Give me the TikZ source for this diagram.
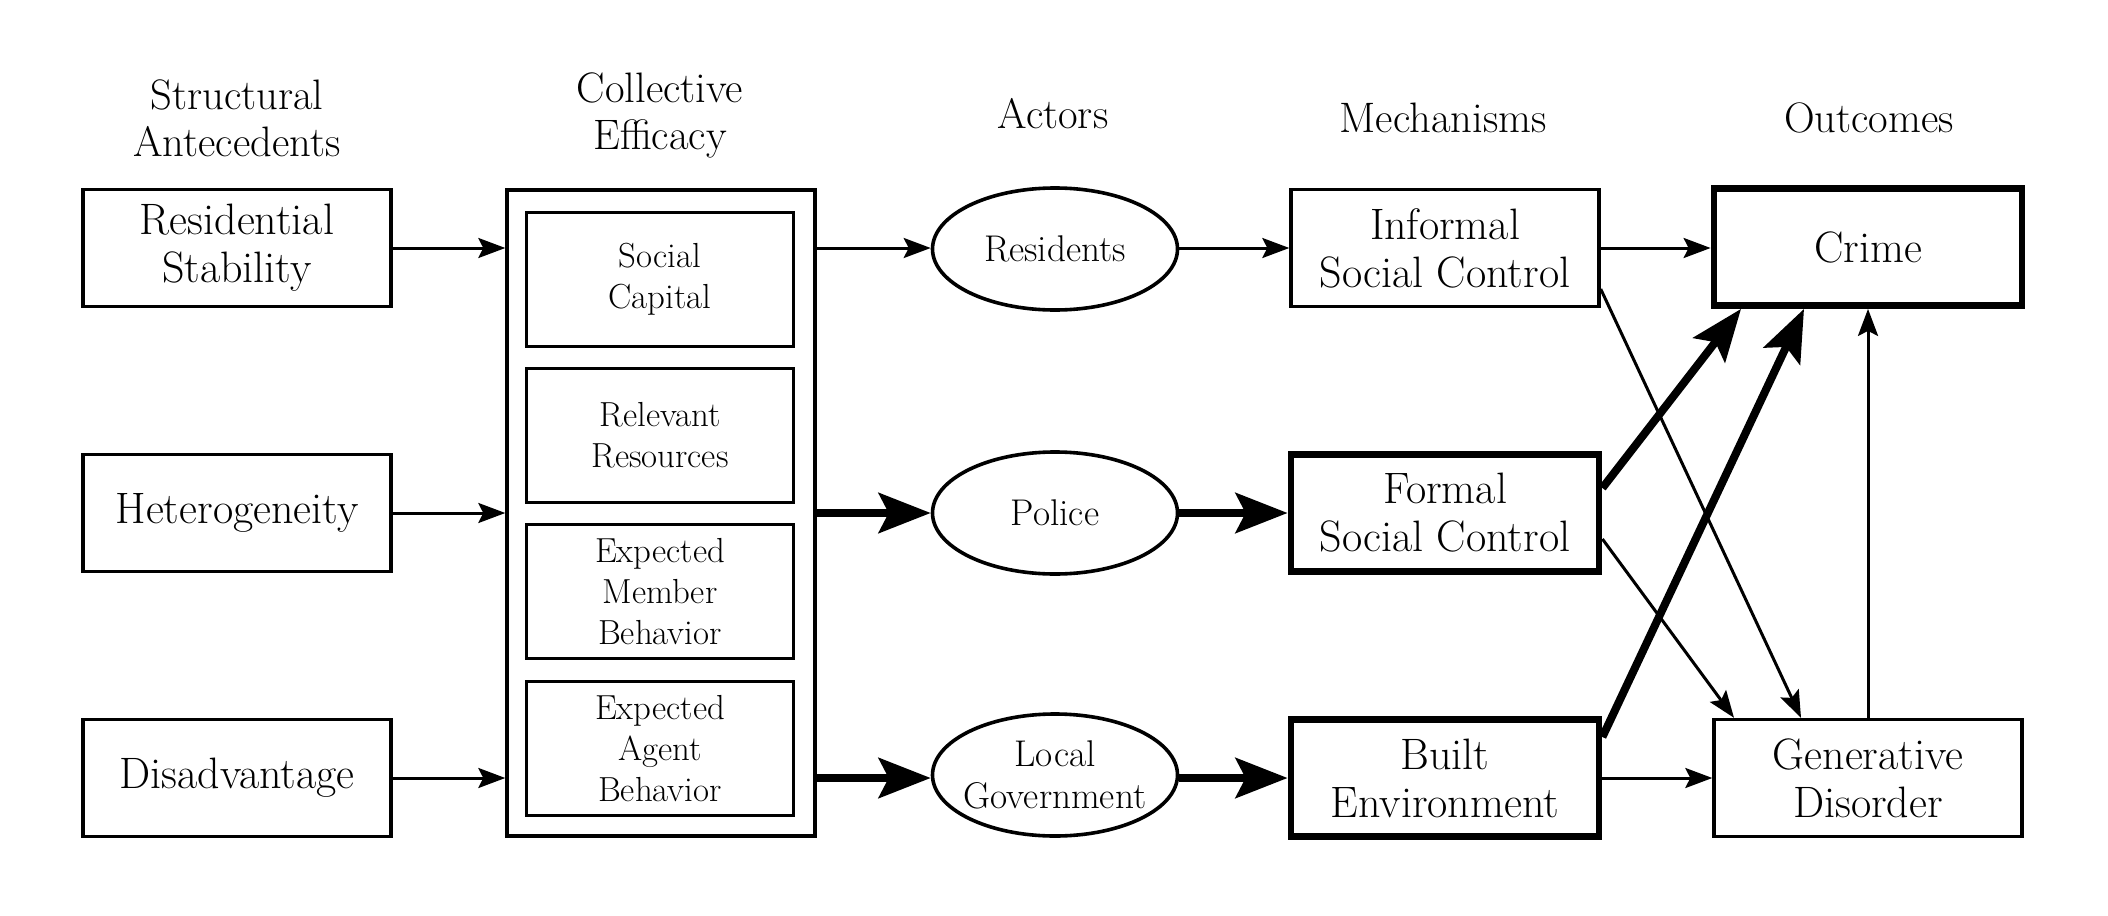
\documentclass[tikz,border=0pt]{standalone}
\usetikzlibrary{arrows.meta,calc,shapes.geometric}
\begin{document}
\begin{tikzpicture}[x=0.5pt,y=-0.5pt,
  box/.style={draw, line width=1.7pt, minimum width=154pt, minimum height=58.5pt, align=center, inner sep=0pt, font=\fontsize{22}{24}\selectfont},
  boldbox/.style={box, line width=3.4pt},
  inbox/.style={draw, line width=1.7pt, minimum width=133.5pt, minimum height=67pt, align=center, inner sep=0pt, font=\fontsize{17.4}{20.5}\selectfont},
  outerbox/.style={draw, line width=1.7pt, minimum width=154pt, minimum height=323pt, inner sep=0pt},
  actor/.style={ellipse, draw, line width=1.8pt, minimum width=122.5pt, minimum height=61pt, inner sep=0pt, align=center, font=\fontsize{18.6}{21}\selectfont},
  head/.style={align=center, inner sep=0pt, font=\fontsize{21.3}{23.5}\selectfont},
  thinarrow/.style={line width=1.5pt, -{Stealth[length=13.5pt,width=10pt,inset=2.5pt]}},
  boldarrow/.style={line width=4pt, -{Stealth[length=26pt,width=20pt,inset=5pt]}}
]
\useasboundingbox (0,0) rectangle (2108,915);
% headers
\node[head] (h1) at (237,118) {Structural\\Antecedents};
\node[head] (h2) at (660,115) {Collective\\Efficacy};
\node[head] (h3) at (1053,114) {Actors};
\node[head] (h4) at (1443,118) {Mechanisms};
\node[head] (h5) at (1869,118) {Outcomes};
% column 1
\node[box] (rs) at (237,248) {Residential\\Stability};
\node[box] (het) at (237,513) {Heterogeneity};
\node[box] (dis) at (237,778) {Disadvantage};
% collective efficacy
\node[outerbox] (ce) at (661,513) {};
\node[inbox] (sc) at (660,279.5) {Social\\Capital};
\node[inbox] (rr) at (660,435.5) {Relevant\\Resources};
\node[inbox] (emb) at (660,591.5) {Expected\\Member\\Behavior};
\node[inbox] (eab) at (660,748.5) {Expected\\Agent\\Behavior};
% actors
\node[actor] (res) at (1055,249) {Residents};
\node[actor] (pol) at (1055,513) {Police};
\node[actor, inner xsep=-12pt] (lg) at (1055,775) {Local\\Government};
% mechanisms
\node[box] (isc) at (1445,248) {Informal\\Social Control};
\node[boldbox] (fsc) at (1445,513) {Formal\\Social Control};
\node[boldbox] (be) at (1445,778) {Built\\Environment};
% outcomes
\node[boldbox] (cr) at (1868,247) {Crime};
\node[box] (gd) at (1868,778) {Generative\\Disorder};
% arrows col1 -> CE
\draw[thinarrow] (rs.east) -- (rs.east -| ce.west);
\draw[thinarrow] (het.east) -- (het.east -| ce.west);
\draw[thinarrow] (dis.east) -- (dis.east -| ce.west);
% CE -> actors
\draw[thinarrow] (ce.east |- rs.east) -- (res.west |- rs.east);
\draw[boldarrow] (ce.east |- pol.west) -- (pol.west);
\draw[boldarrow] (ce.east |- dis.east) -- (lg.west |- dis.east);
% actors -> mechanisms
\draw[thinarrow] (res.east |- isc.west) -- (isc.west);
\draw[boldarrow] (pol.east) -- (fsc.west);
\draw[boldarrow] (lg.east |- be.west) -- (be.west);
% mechanisms -> outcomes
\draw[thinarrow] (isc.east) -- (isc.east -| cr.west);
\draw[thinarrow] (be.east) -- (gd.west);
\draw[thinarrow] ($(isc.east)+(0,41)$) -- ($(gd.north)+(-67,0)$);
\draw[boldarrow] ($(fsc.east)+(0,-25)$) -- ($(cr.south)+(-127,0)$);
\draw[thinarrow] ($(fsc.east)+(0,26)$) -- ($(gd.north)+(-134,0)$);
\draw[boldarrow] ($(be.east)+(0,-41)$) -- ($(cr.south)+(-64,0)$);
\draw[thinarrow] (gd.north) -- (cr.south);
\end{tikzpicture}
\end{document}
